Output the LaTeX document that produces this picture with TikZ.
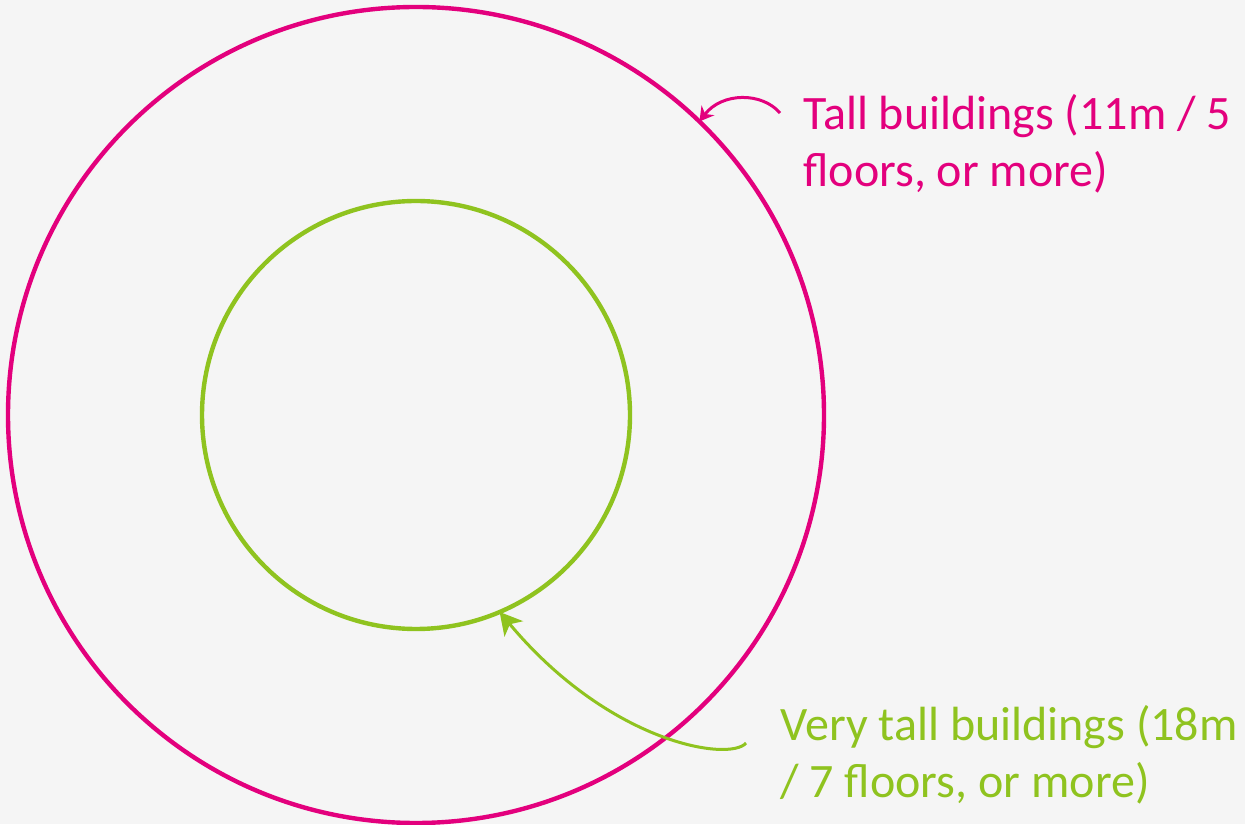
\documentclass[tikz,border=0pt]{standalone}
\usepackage{fontspec}
\setmainfont{Carlito}
\usetikzlibrary{arrows.meta}
\definecolor{bg}{HTML}{F5F5F5}
\definecolor{tallc}{HTML}{E3007D}
\definecolor{vtallc}{HTML}{8FC31F}

\begin{document}
\begin{tikzpicture}[x=0.5pt, y=0.5pt,
    ring/.style={circle, line width=2.2pt, inner sep=0pt, outer sep=0pt},
    lbl/.style={anchor=base west, align=left, inner sep=0pt, font=\fontsize{24pt}{28.5pt}\selectfont}]
  \def\Cx{416} \def\Cy{409}

  \fill[bg] (0,0) rectangle (1245,824);
  \useasboundingbox (0,0) rectangle (1245,824);

  \node[ring, draw=tallc, minimum size=408pt] (outer) at (\Cx,\Cy) {};
  \node[ring, draw=vtallc, minimum size=214pt] (inner) at (\Cx,\Cy) {};

  % base anchor sits on the last line
  \node[lbl, text=tallc] (tall) at (803,637) {Tall buildings (11m / 5\\floors, or more)};
  \node[lbl, text=vtallc] (vtall) at (780,27) {Very tall buildings (18m\\/ 7 floors, or more)};

  \coordinate (tallstart) at (780,711);
  \coordinate (vtallstart) at (746,81);

  \draw[tallc, line width=1.5pt, -{Stealth[length=7pt, width=8pt]}]
    (tallstart) .. controls (762,732) and (722,732) .. (outer.46.6);
  \draw[vtallc, line width=1.5pt, -{Stealth[length=11pt, width=12pt, inset=3pt]}]
    (vtallstart) .. controls (730,62) and (610,80) .. (inner.-67);
\end{tikzpicture}
\end{document}
